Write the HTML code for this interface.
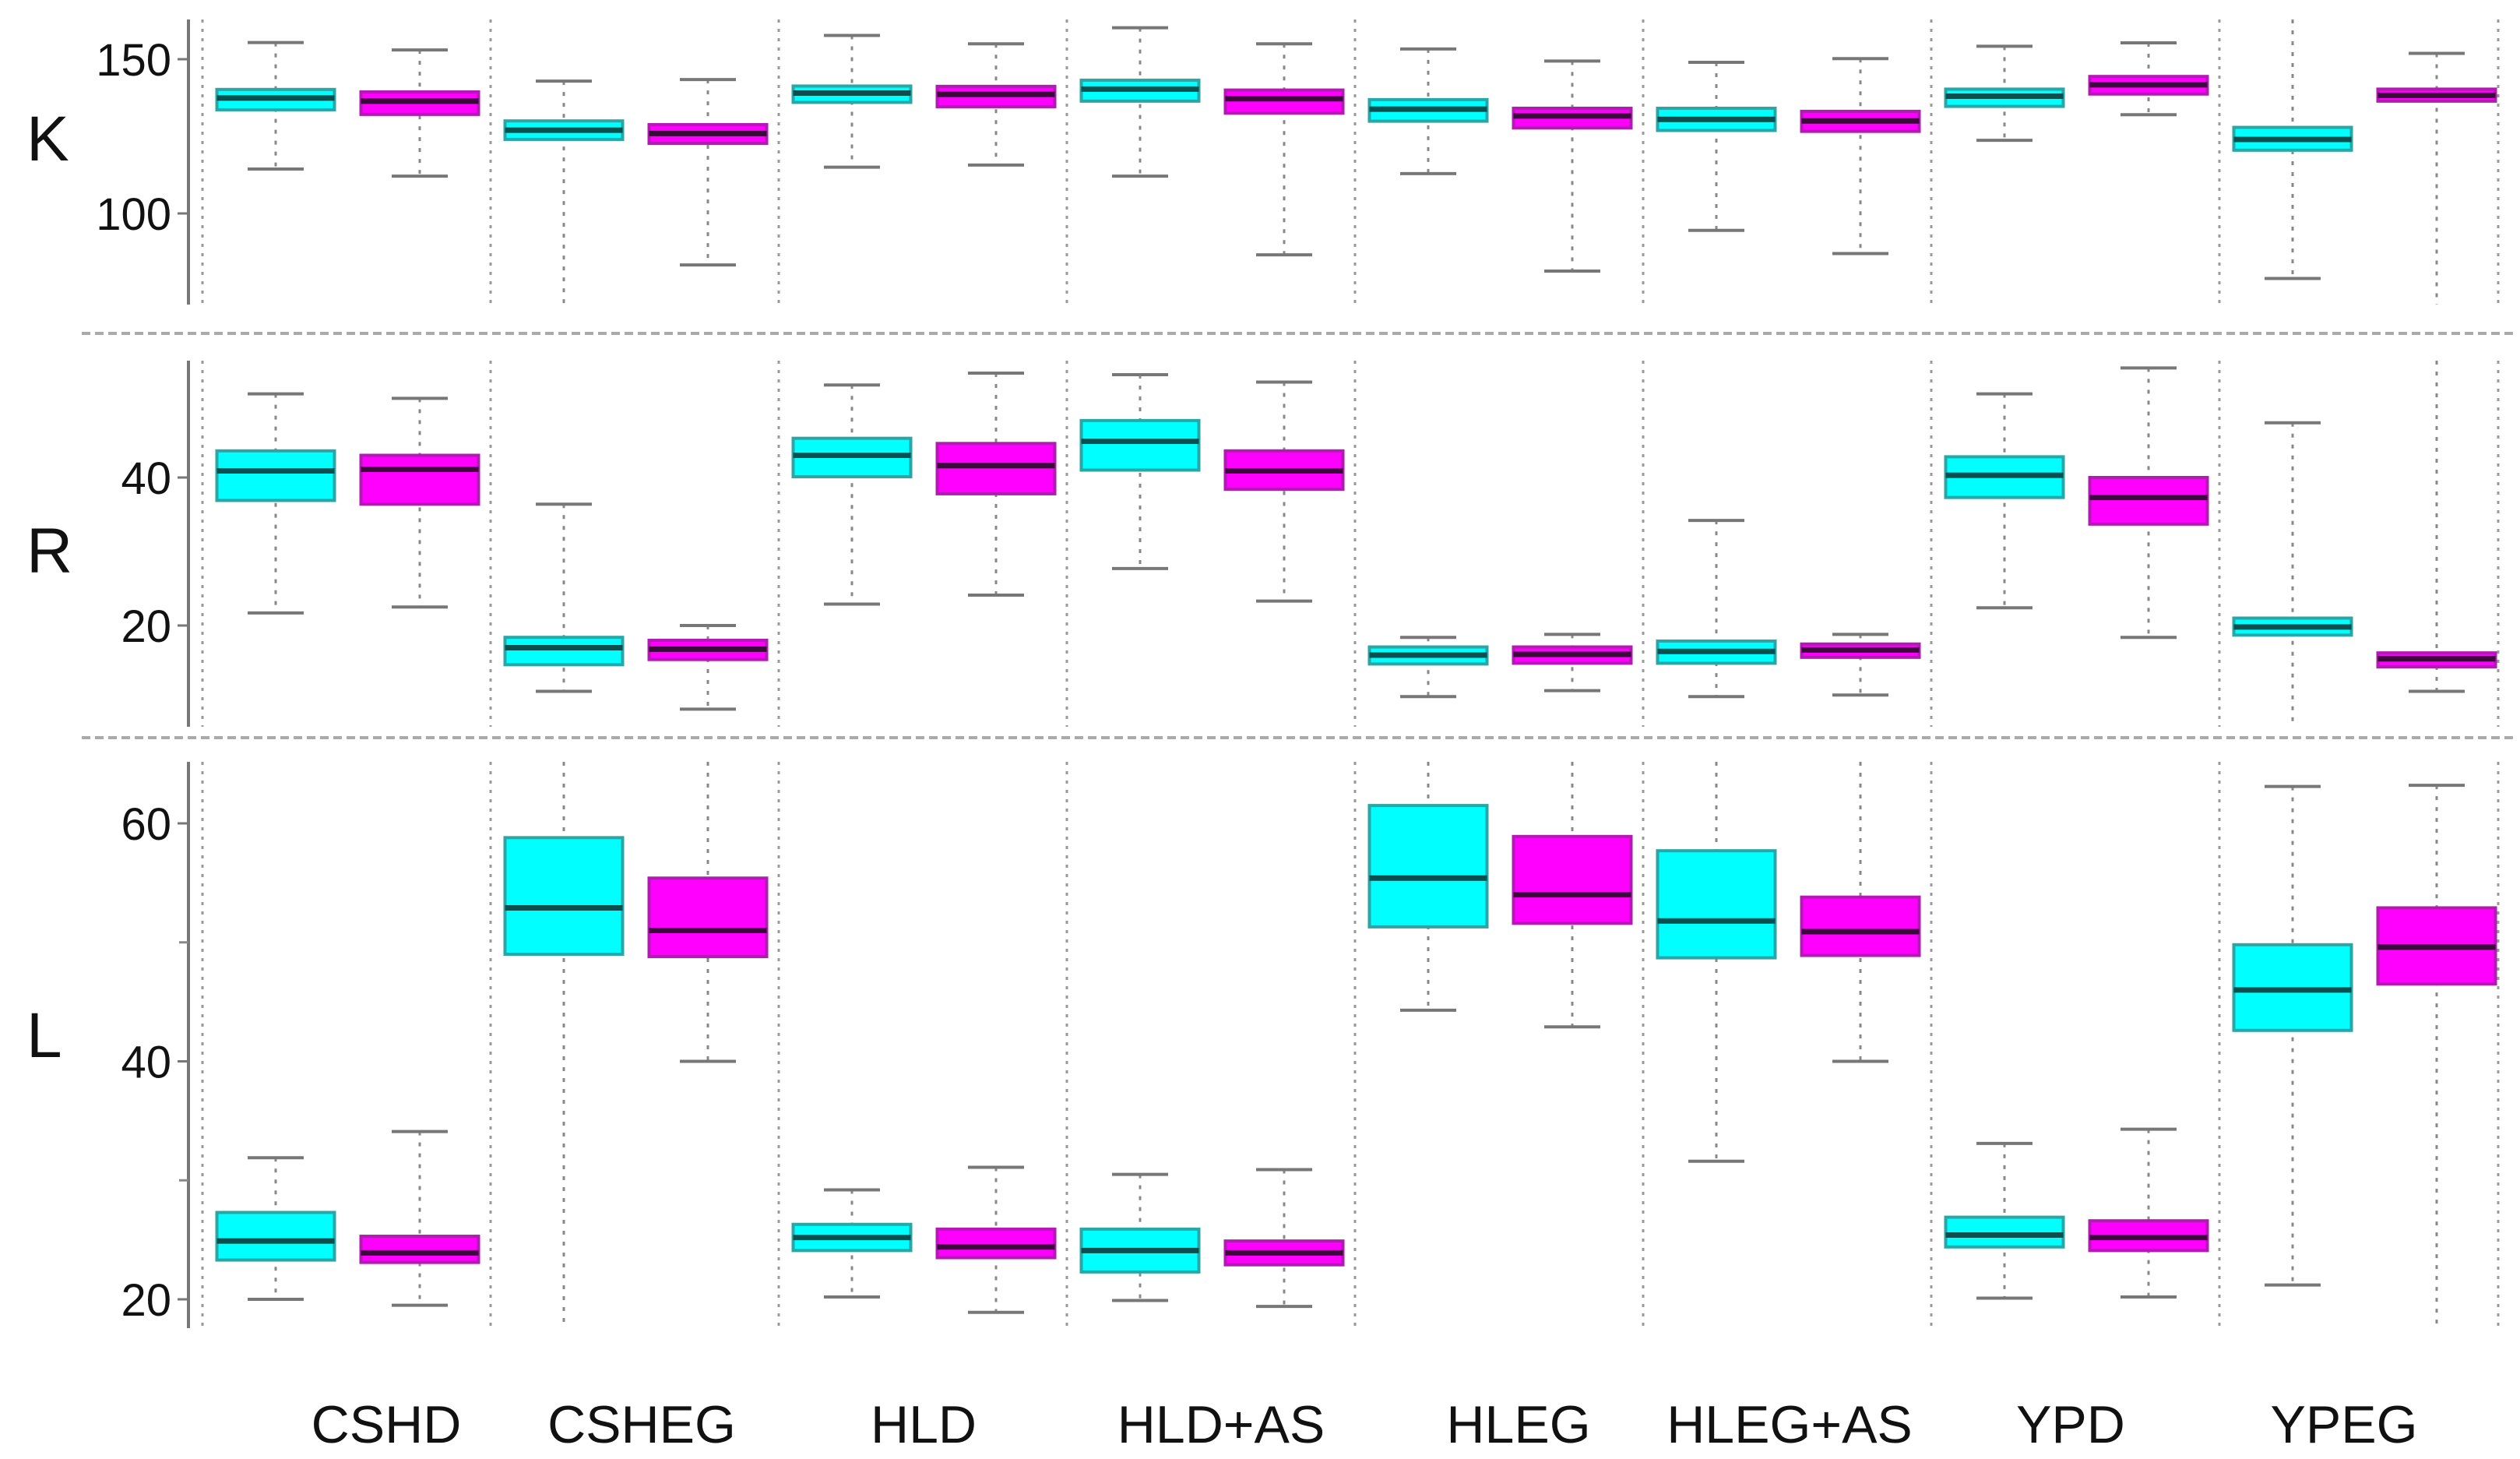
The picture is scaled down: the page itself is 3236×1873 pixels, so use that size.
<!DOCTYPE html>
<html><head><meta charset="utf-8">
<style>
html,body{margin:0;padding:0;background:#fff;}
svg{display:block;}
text{font-family:"Liberation Sans",sans-serif;fill:#111;}
</style></head>
<body>
<svg id="chart" width="3236" height="1873" viewBox="0 0 3236 1873" xmlns="http://www.w3.org/2000/svg"></svg>
<script>
const categories = ["CSHD","CSHEG","HLD","HLD+AS","HLEG","HLEG+AS","YPD","YPEG"];
const labelCenters = [496,824,1186,1568,1950,2298,2659,3010];
// K panel
const kCyanLo  = [114.4,60,115,112.1,112.9,94.5,123.7,78.9];
const kCyanQ1  = [133.6,124,136,136.4,129.9,126.9,134.7,120.5];
const kCyanMed = [137.4,127,139,140.3,133.8,130.5,138,124];
const kCyanQ3  = [140.2,130,141.3,143.2,136.9,134.1,140.3,127.9];
const kCyanHi  = [155.4,142.9,157.7,160.2,153.3,149,154.2,170];
const kMagLo   = [112.1,83.3,115.7,86.6,81.3,87,132,60];
const kMagQ1   = [132.1,122.7,134.6,132.5,127.7,126.6,138.7,136.4];
const kMagMed  = [136.4,125.9,138.6,137.2,131.6,130,141.7,138.3];
const kMagQ3   = [139.4,128.8,141.2,140,134.1,133.1,144.4,140.3];
const kMagHi   = [153,143.4,155,155,149.4,150.2,155.3,151.9];
// R panel
const rCyanLo  = [21.7,11.1,22.9,27.7,10.4,10.4,22.4,0];
const rCyanQ1  = [36.9,14.7,40.1,41,14.8,14.9,37.3,18.7];
const rCyanMed = [40.9,17,43,44.9,16,16.5,40.3,19.8];
const rCyanQ3  = [43.6,18.4,45.3,47.7,17.1,17.9,42.8,21];
const rCyanHi  = [51.3,36.4,52.5,53.9,18.4,34.2,51.3,47.4];
const rMagLo   = [22.5,8.7,24.1,23.3,11.2,10.6,18.4,11.1];
const rMagQ1   = [36.4,15.4,37.8,38.4,14.9,15.7,33.7,14.4];
const rMagMed  = [41.1,16.8,41.6,40.9,16.1,16.7,37.3,15.5];
const rMagQ3   = [43,18,44.6,43.6,17.1,17.5,40,16.3];
const rMagHi   = [50.7,20,54.1,52.9,18.8,18.8,54.8,70];
// L panel
const lCyanLo  = [20,10,20.2,19.9,44.3,31.6,20.1,21.2];
const lCyanQ1  = [23.3,49,24.1,22.3,51.3,48.7,24.4,42.6];
const lCyanMed = [24.9,52.9,25.2,24.1,55.4,51.8,25.4,46];
const lCyanQ3  = [27.3,58.8,26.3,25.9,61.5,57.7,26.9,49.8];
const lCyanHi  = [31.9,80,29.2,30.5,80,80,33.1,63.1];
const lMagLo   = [19.5,40,18.9,19.4,42.9,40,20.2,10];
const lMagQ1   = [23.1,48.8,23.5,22.9,51.6,48.9,24.1,46.5];
const lMagMed  = [23.9,51,24.4,23.9,54,50.9,25.2,49.6];
const lMagQ3   = [25.3,55.4,25.9,24.9,58.9,53.8,26.6,52.9];
const lMagHi   = [34.1,80,31.1,30.9,80,80,34.3,63.2];
const kTicks = [150,100];
const rTicks = [40,20];
const lTicks = [60,40,20];
const lMinorTicks = [50,30];

const NS="http://www.w3.org/2000/svg";
const svg=document.getElementById('chart');
function mk(tag,attrs,parent){const e=document.createElementNS(NS,tag);for(const k in attrs)e.setAttribute(k,attrs[k]);(parent||svg).appendChild(e);return e;}

const panels=[
 {id:'k',letter:'K',letterY:177,top:25,bot:391,v1:150,y1:76,v2:100,y2:274,ticks:kTicks,minor:[],
  cyan:[kCyanLo,kCyanQ1,kCyanMed,kCyanQ3,kCyanHi],mag:[kMagLo,kMagQ1,kMagMed,kMagQ3,kMagHi]},
 {id:'r',letter:'R',letterY:706,top:463,bot:933,v1:40,y1:613,v2:20,y2:803,ticks:rTicks,minor:[],
  cyan:[rCyanLo,rCyanQ1,rCyanMed,rCyanQ3,rCyanHi],mag:[rMagLo,rMagQ1,rMagMed,rMagQ3,rMagHi]},
 {id:'l',letter:'L',letterY:1328,top:978,bot:1705,v1:60,y1:1057,v2:20,y2:1668,ticks:lTicks,minor:lMinorTicks,
  cyan:[lCyanLo,lCyanQ1,lCyanMed,lCyanQ3,lCyanHi],mag:[lMagLo,lMagQ1,lMagMed,lMagQ3,lMagHi]}
];
const groupX0=260, groupW=370, boxW=151;
function xGroup(i){return groupX0+groupW*i;}

[428,947].forEach(function(y,i){
  const s=mk('line',{x1:105,x2:3230,y1:y,y2:y,stroke:'#aaa','stroke-width':4,'stroke-dasharray':'11 6'});
  
  
});

panels.forEach(function(p){
  const g=mk('g',{});
  
  
  const yS=function(v){return p.y1+(v-p.v1)*(p.y2-p.y1)/(p.v2-p.v1);};
  const clip=function(y){return Math.max(p.top,Math.min(p.bot,y));};
  const t=mk('text',{x:34,y:p.letterY+29,'font-size':82},g);
  t.textContent=p.letter;
  
  
  const ax=mk('line',{x1:242,x2:242,y1:p.top,y2:p.bot,stroke:'#777','stroke-width':4},g);
  
  
  p.ticks.forEach(function(v){
    const y=yS(v);
    const tk=mk('line',{x1:228,x2:242,y1:y,y2:y,stroke:'#777','stroke-width':3},g);
    
    
    const tl=mk('text',{x:220,y:y+21,'font-size':58,'text-anchor':'end'},g);
    tl.textContent=v;
    
    
  });
  p.minor.forEach(function(v){
    const y=yS(v);
    const tk=mk('line',{x1:230,x2:242,y1:y,y2:y,stroke:'#888','stroke-width':3},g);
    
    
  });
  for(let i=0;i<=categories.length;i++){
    const x=i<categories.length?xGroup(i):3208;
    const d=mk('line',{x1:x,x2:x,y1:p.top,y2:p.bot,stroke:'#999','stroke-width':3,'stroke-dasharray':'4 8'},g);
    
    
  }
  [['cyan',p.cyan,94,'#00ffff','#2aa6a6','#0b4f4f'],['magenta',p.mag,279,'#ff00ff','#b31ab3','#3a0a3a']].forEach(function(s){
    const arr=s[1];
    for(let i=0;i<categories.length;i++){
      const cx=xGroup(i)+s[2];
      const lo=yS(arr[0][i]),q1=yS(arr[1][i]),md=yS(arr[2][i]),q3=yS(arr[3][i]),hi=yS(arr[4][i]);
      const bg=mk('g',{},g);
      
      
      mk('line',{x1:cx,x2:cx,y1:clip(hi),y2:clip(lo),stroke:'#888','stroke-width':3,'stroke-dasharray':'5 9'},bg);
      if(hi>=p.top) mk('line',{x1:cx-36,x2:cx+36,y1:hi,y2:hi,stroke:'#777','stroke-width':4},bg);
      if(lo<=p.bot) mk('line',{x1:cx-36,x2:cx+36,y1:lo,y2:lo,stroke:'#777','stroke-width':4},bg);
      mk('rect',{x:cx-boxW/2,y:q3,width:boxW,height:q1-q3,fill:s[3],stroke:s[4],'stroke-width':4},bg);
      mk('line',{x1:cx-boxW/2,x2:cx+boxW/2,y1:md,y2:md,stroke:s[5],'stroke-width':7},bg);
    }
  });
});

categories.forEach(function(c,i){
  const t=mk('text',{x:labelCenters[i],y:1852,'font-size':68,'text-anchor':'middle'});
  t.textContent=c;
  
  
});
</script>
</body></html>
